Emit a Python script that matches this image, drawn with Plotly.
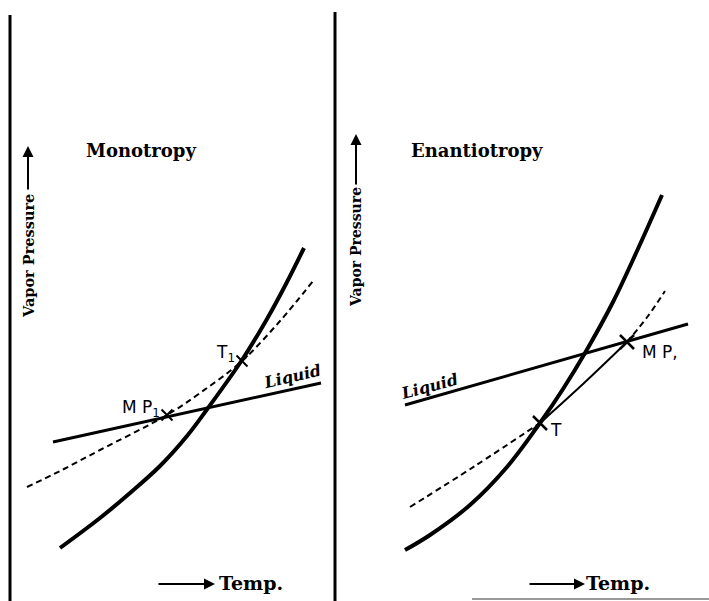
import plotly.graph_objects as go

# ---- Data (temperature, vapour pressure in arbitrary diagram units) ----
# Left panel: Monotropy
mono_solid_t = [60, 100, 130, 160, 187, 208, 242, 267, 287, 304]
mono_solid_p = [53, 83, 108, 135, 165, 193, 241, 282, 319, 353]
mono_dash_t = [27, 60, 100, 167, 200, 242, 280, 313]
mono_dash_p = [114, 130, 151, 186, 208, 240, 280, 320]
mono_liq_t = [53, 321]
mono_liq_p = [159, 218]
mono_marks_t = [167, 242]
mono_marks_p = [186, 240]

# Right panel: Enantiotropy
enan_solid_t = [70, 95, 135, 172, 205, 228, 250, 278, 302, 327]
enan_solid_p = [51, 66, 96, 134, 178, 212, 248, 299, 350, 406]
enan_dash1_t = [75, 140, 205]
enan_dash1_p = [94, 135, 178]
enan_thin_t = [205, 248, 292]
enan_thin_p = [178, 217, 259]
enan_dash2_t = [292, 313, 330]
enan_dash2_p = [259, 285, 310]
enan_liq_t = [70, 353]
enan_liq_p = [196, 277]
enan_marks_t = [205, 292]
enan_marks_p = [178, 259]

W, H = 709, 601
SPLIT = 335

fig = go.Figure()

def line(t, p, width, dash="solid", ax="x", ay="y"):
    fig.add_trace(go.Scatter(x=t, y=p, mode="lines", xaxis=ax, yaxis=ay,
                             line=dict(color="black", width=width, dash=dash,
                                       shape="spline", smoothing=1.0),
                             hoverinfo="skip", showlegend=False))

# left
line(mono_solid_t, mono_solid_p, 4)
line(mono_dash_t, mono_dash_p, 2, "6px,4px")
line(mono_liq_t, mono_liq_p, 3)
fig.add_trace(go.Scatter(x=mono_marks_t, y=mono_marks_p, mode="markers",
                         marker=dict(symbol="x-thin", size=11,
                                     line=dict(color="black", width=2)),
                         hoverinfo="skip", showlegend=False))
# right
line(enan_solid_t, enan_solid_p, 4, ax="x2", ay="y2")
line(enan_dash1_t, enan_dash1_p, 2, "6px,4px", "x2", "y2")
line(enan_thin_t, enan_thin_p, 2, "solid", "x2", "y2")
line(enan_dash2_t, enan_dash2_p, 2, "6px,4px", "x2", "y2")
line(enan_liq_t, enan_liq_p, 3, ax="x2", ay="y2")
fig.add_trace(go.Scatter(x=enan_marks_t, y=enan_marks_p, mode="markers",
                         xaxis="x2", yaxis="y2",
                         marker=dict(symbol="x-thin", size=14,
                                     line=dict(color="black", width=2.5)),
                         hoverinfo="skip", showlegend=False))

ax_common = dict(visible=False, showgrid=False, zeroline=False, fixedrange=True)
fig.update_layout(
    width=W, height=H,
    margin=dict(l=0, r=0, t=0, b=0),
    paper_bgcolor="white", plot_bgcolor="white",
    xaxis=dict(domain=[0, SPLIT / W], range=[0, SPLIT], **ax_common),
    yaxis=dict(domain=[0, 1], range=[0, H], **ax_common),
    xaxis2=dict(domain=[SPLIT / W, 1], range=[0, W - SPLIT], anchor="y2", **ax_common),
    yaxis2=dict(domain=[0, 1], range=[0, H], anchor="x2", **ax_common),
    showlegend=False,
)

# frame lines
fig.add_shape(type="line", xref="paper", yref="paper", x0=10 / W, x1=10 / W,
              y0=0, y1=1 - 15 / H, line=dict(color="black", width=3))
fig.add_shape(type="line", xref="paper", yref="paper", x0=SPLIT / W, x1=SPLIT / W,
              y0=0, y1=1 - 12 / H, line=dict(color="black", width=3))
fig.add_shape(type="line", xref="paper", yref="paper", x0=472 / W, x1=1,
              y0=1 - 599 / H, y1=1 - 599 / H, line=dict(color="#999999", width=2))

serif = "DejaVu Serif"
sans = "DejaVu Sans"

def txt(text, x, y, xr="x", yr="y", size=18, family=serif, angle=0, **kw):
    fig.add_annotation(text=text, x=x, y=y, xref=xr, yref=yr, showarrow=False,
                       textangle=angle, font=dict(family=family, size=size, color="black"),
                       xanchor="center", yanchor="middle", **kw)

def arrow(x0, y0, x1, y1):
    # tail (x0,y0) -> head (x1,y1), page pixels with top-left origin
    fig.add_annotation(x=x1 / W, y=1 - y1 / H, xref="paper", yref="paper",
                       ax=x0 - x1, ay=y0 - y1, axref="pixel", ayref="pixel",
                       text="", showarrow=True, arrowhead=2, arrowsize=1.1,
                       arrowwidth=2, arrowcolor="black")

# titles
txt("<b>Monotropy</b>", 141, H - 150)
txt("<b>Enantiotropy</b>", 142, H - 150, "x2", "y2")

# y labels
txt("<b>Vapor Pressure</b>", 28, H - 256, size=14.5, angle=-90)
arrow(28, 191, 28, 146)
txt("<b>Vapor Pressure</b>", 356 - SPLIT, H - 247, "x2", "y2", size=14, angle=-90)
arrow(356, 186, 356, 134)

# x labels
txt("<b>Temp.</b>", 251, H - 583, size=19)
arrow(157, 584, 215, 584)
txt("<b>Temp.</b>", 618 - SPLIT, H - 583, "x2", "y2", size=19)
arrow(528, 584, 585, 584)

# curve labels
txt("<b><i>Liquid</i></b>", 292, H - 376, size=16, angle=-13)
txt("<b><i>Liquid</i></b>", 429 - SPLIT, H - 386, "x2", "y2", size=16, angle=-15)
txt("M P<sub>1</sub>", 141, H - 408, size=17, family=sans)
txt("T<sub>1</sub>", 225, H - 353, size=17, family=sans)
txt("M P,", 660 - SPLIT, H - 352, "x2", "y2", size=17, family=sans)
txt("T", 556 - SPLIT, H - 430, "x2", "y2", size=17, family=sans)

fig.write_html("out.html", config={"displayModeBar": False},
               post_script="document.body.style.margin='0px';")
